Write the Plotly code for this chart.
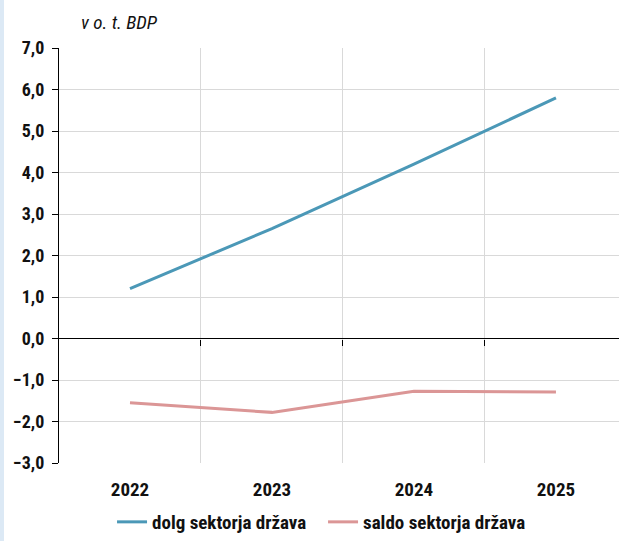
import plotly.graph_objects as go

# Public finance projections, % of GDP
years = ["2022", "2023", "2024", "2025"]
dolg = [1.2, 2.65, 4.2, 5.8]
saldo = [-1.55, -1.78, -1.27, -1.29]
y_ticks = [-3, -2, -1, 0, 1, 2, 3, 4, 5, 6, 7]

FONT = "Roboto Condensed, Open Sans Condensed, sans-serif"
BLUE = "#4B98B7"
PINK = "#DB9696"
Y_MIN, Y_MAX = -3, 7
X_RANGE = [-0.5, 3.444]

fig = go.Figure()
fig.add_trace(go.Scatter(x=years, y=dolg, mode="lines", name="dolg sektorja država",
                         line=dict(color=BLUE, width=3)))
fig.add_trace(go.Scatter(x=years, y=saldo, mode="lines", name="saldo sektorja država",
                         line=dict(color=PINK, width=3)))

# boundary ticks along the zero line
fig.add_trace(go.Scatter(x=[0.5, 1.5, 2.5], y=[None, None, None], xaxis="x2",
                         showlegend=False, hoverinfo="skip"))

fig.update_layout(
    width=619, height=541,
    margin=dict(l=59, r=0, t=48, b=78),
    paper_bgcolor="white", plot_bgcolor="white",
    font=dict(family=FONT, size=16, color="#111111"),
    separators=",.",
    showlegend=True,
    legend=dict(orientation="h", x=0.181, xref="container", xanchor="left",
                y=0.0, yref="container", yanchor="bottom",
                font=dict(family=FONT, size=19, color="#111111", weight="bold"),
                itemwidth=30, entrywidth=166, entrywidthmode="pixels"),
    xaxis=dict(type="category", range=X_RANGE, tickson="boundaries",
               showgrid=True, gridcolor="#d9d9d9", gridwidth=1,
               ticks="", showline=False, zeroline=False,
               ticklabelstandoff=13,
               tickfont=dict(family=FONT, size=19, color="#111111", weight="bold")),
    xaxis2=dict(overlaying="x", range=X_RANGE, anchor="free",
                position=(0 - Y_MIN) / (Y_MAX - Y_MIN),
                tickvals=[0.5, 1.5, 2.5], showticklabels=False,
                ticks="outside", ticklen=6, tickcolor="black",
                showline=False, showgrid=False, zeroline=False),
    yaxis=dict(range=[Y_MIN, Y_MAX], tickvals=y_ticks, tickformat=".1f",
               showgrid=True, gridcolor="#d9d9d9", gridwidth=1,
               zeroline=True, zerolinecolor="black", zerolinewidth=1,
               showline=True, linecolor="black", linewidth=1.2,
               ticks="outside", ticklen=6, tickcolor="black",
               ticklabelstandoff=4,
               tickfont=dict(family=FONT, size=18, color="#111111", weight="bold")),
    shapes=[dict(type="rect", xref="paper", yref="paper",
                 x0=-59 / 560, x1=-55 / 560, y0=-2, y1=2,
                 fillcolor="#dce9f5", line=dict(width=0), layer="below")],
    annotations=[dict(text="<i>v o. t. BDP</i>", xref="paper", yref="paper",
                      x=0.036, y=1.03, xanchor="left", yanchor="bottom",
                      showarrow=False,
                      font=dict(family=FONT, size=19, color="#111111", weight="normal"))],
)

fig.write_html("out.html")
